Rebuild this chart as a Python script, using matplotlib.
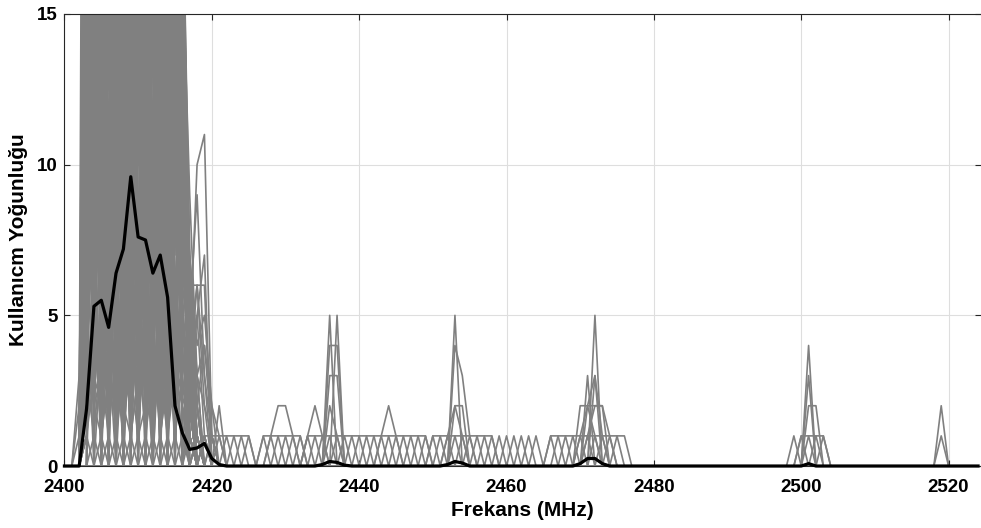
import numpy as np
import matplotlib
matplotlib.use("Agg")
from matplotlib import pyplot as plt

plt.rcParams['font.family'] = ['Liberation Sans', 'DejaVu Sans']
plt.rcParams['font.weight'] = 'bold'

# frekans ekseni (1 MHz adim)
freqs = np.arange(2400, 2525)

# ortalama egri (siyah), 2400..2421
mean_start = 2400
mean_vals = [0, 0, 0, 1.9, 5.3, 5.5, 4.6, 6.4, 7.2, 9.6, 7.6, 7.5, 6.4, 7.0,
             5.6, 2.0, 1.1, 0.55, 0.6, 0.75, 0.25, 0.05]
# ortalamadaki kucuk tepeler
mean_bumps = {2435: 0.05, 2436: 0.15, 2437: 0.12, 2438: 0.03,
              2452: 0.05, 2453: 0.15, 2454: 0.1,
              2470: 0.08, 2471: 0.25, 2472: 0.25, 2473: 0.08,
              2501: 0.08}

# yogun bant (2401'den baslayan olcumler)
block_start = 2401
block_traces = [
    [0, 0, 40, 0, 20, 2, 60, 0, 18, 5, 30, 1, 25, 0, 45, 3, 0, 0, 0, 0, 0],
    [0, 3, 18, 1, 35, 0, 22, 8, 50, 0, 16, 3, 40, 12, 20, 0, 2, 0, 0, 0, 0],
    [0, 0, 25, 10, 60, 1, 30, 0, 20, 13, 35, 0, 18, 6, 30, 8, 4, 1, 0, 0, 0],
    [0, 1, 60, 3, 17, 0, 45, 11, 25, 2, 20, 9, 55, 0, 16, 1, 0, 0, 1, 0, 0],
    [0, 2, 30, 6, 22, 14, 40, 2, 35, 0, 60, 4, 22, 10, 40, 0, 6, 3, 0, 0, 0],
    [0, 0, 20, 0, 50, 5, 16, 0, 30, 7, 18, 0, 35, 2, 25, 4, 1, 0, 0, 0, 0],
    [0, 0, 35, 12, 25, 0, 20, 9, 60, 1, 25, 13, 30, 0, 18, 2, 0, 1, 0, 0, 0],
    [0, 0, 16, 2, 30, 8, 35, 0, 17, 11, 45, 1, 20, 5, 60, 10, 3, 0, 0, 1, 0],
    [0, 0, 45, 0, 18, 3, 25, 13, 40, 0, 30, 7, 16, 0, 22, 0, 2, 0, 0, 0, 0],
    [0, 0, 22, 9, 40, 0, 55, 4, 20, 1, 16, 0, 45, 11, 35, 5, 0, 0, 0, 0, 0],
    [0, 0, 0, 30, 1, 20, 0, 45, 3, 18, 0, 60, 2, 25, 0, 20, 3, 0, 0, 0, 0],
    [0, 0, 2, 18, 12, 40, 0, 22, 9, 35, 1, 17, 13, 50, 4, 17, 5, 1, 0, 0, 0],
    [0, 0, 1, 50, 0, 25, 7, 16, 0, 40, 10, 30, 0, 20, 11, 18, 2, 0, 0, 0, 0],
    [0, 0, 0, 22, 5, 60, 1, 30, 12, 20, 0, 45, 6, 16, 0, 16, 6, 2, 0, 0, 0],
    [0, 0, 3, 35, 0, 18, 10, 50, 0, 25, 13, 22, 1, 40, 8, 16, 4, 0, 1, 0, 0],
    [0, 0, 0, 16, 8, 30, 0, 20, 14, 60, 2, 35, 9, 18, 1, 19, 3, 0, 0, 0, 0],
    [0, 0, 0, 40, 13, 16, 3, 35, 0, 22, 6, 18, 0, 30, 12, 22, 1, 0, 0, 0, 0],
    [0, 0, 1, 25, 0, 45, 12, 18, 5, 16, 0, 40, 11, 60, 0, 17, 7, 3, 0, 0, 0],
    [0, 0, 0, 60, 9, 22, 0, 40, 1, 30, 12, 16, 0, 25, 5, 15, 2, 0, 0, 0, 0],
    [0, 0, 4, 20, 1, 35, 5, 25, 11, 45, 0, 20, 14, 35, 2, 19, 0, 1, 0, 0, 0],
    [0, 0, 12, 20, 6, 15, 25, 9, 16, 4, 22, 14, 8, 18, 3, 12, 1, 0, 0, 0, 0],
    [0, 0, 6, 10, 17, 3, 13, 20, 7, 14, 19, 5, 12, 16, 9, 17, 2, 0, 0, 0, 0],
    [0, 0, 14, 5, 11, 19, 8, 4, 13, 16, 6, 21, 3, 9, 17, 6, 0, 0, 0, 0, 0],
    [0, 0, 9, 17, 2, 12, 15, 6, 22, 8, 11, 15, 20, 4, 14, 11, 3, 1, 0, 0, 0],
    [0, 0, 8, 16, 24, 16, 8, 0, 8, 16, 24, 16, 8, 0, 8, 16, 6, 0, 0, 0, 0],
    [0, 0, 16, 24, 16, 8, 0, 8, 16, 24, 16, 8, 0, 8, 16, 8, 2, 0, 0, 0, 0],
    [0, 0, 24, 16, 8, 0, 8, 16, 24, 16, 8, 0, 8, 16, 24, 16, 4, 0, 0, 0, 0],
    [0, 0, 0, 8, 16, 24, 16, 8, 0, 8, 16, 24, 16, 8, 0, 8, 3, 0, 0, 0, 0],
    [0, 0, 6, 13, 20, 13, 6, 0, 6, 13, 20, 13, 6, 13, 20, 13, 5, 0, 0, 0, 0],
    [0, 0, 20, 13, 6, 13, 20, 27, 20, 13, 6, 0, 6, 13, 20, 15, 3, 0, 0, 0, 0],
    [0, 0, 13, 20, 27, 20, 13, 6, 13, 20, 27, 20, 13, 6, 13, 10, 1, 0, 0, 0, 0],
    [0, 0, 10, 20, 10, 0, 10, 20, 10, 0, 10, 20, 10, 0, 10, 20, 5, 0, 0, 0, 0],
    [0, 0, 20, 10, 0, 10, 20, 10, 0, 10, 20, 10, 0, 10, 20, 10, 2, 0, 0, 0, 0],
    [0, 0, 5, 15, 25, 15, 5, 15, 25, 15, 5, 15, 25, 15, 5, 12, 4, 1, 0, 0, 0],
    [0, 0, 15, 25, 15, 5, 15, 25, 15, 5, 15, 25, 15, 5, 15, 20, 6, 0, 0, 0, 0],
    [0, 0, 25, 15, 5, 15, 25, 35, 25, 15, 5, 15, 25, 15, 5, 0, 0, 0, 0, 0, 0],
    [0, 0, 11, 22, 11, 3, 11, 22, 33, 22, 11, 3, 11, 22, 11, 18, 4, 0, 0, 0, 0],
    [0, 0, 3, 11, 22, 33, 22, 11, 3, 11, 22, 11, 3, 11, 22, 16, 2, 0, 0, 0, 0],
    [0, 0, 22, 11, 3, 11, 22, 11, 3, 11, 22, 33, 22, 11, 3, 11, 1, 0, 0, 0, 0],
    [0, 0, 7, 14, 21, 28, 21, 14, 7, 14, 21, 14, 7, 14, 21, 14, 3, 0, 0, 0, 0],
    [0, 0, 14, 7, 0, 7, 14, 21, 14, 7, 0, 7, 14, 21, 14, 18, 5, 1, 0, 0, 0],
    [0, 0, 21, 14, 7, 14, 21, 14, 7, 0, 7, 14, 21, 14, 7, 17, 2, 0, 0, 0, 0],
    [0, 0, 9, 18, 27, 18, 9, 18, 27, 18, 9, 0, 9, 18, 27, 18, 6, 2, 0, 0, 0],
    [0, 0, 18, 9, 0, 9, 18, 9, 18, 27, 18, 9, 18, 9, 0, 9, 0, 0, 0, 0, 0],
    [0, 0, 27, 18, 9, 18, 9, 0, 9, 18, 27, 18, 9, 18, 9, 16, 3, 0, 0, 0, 0],
    [0, 0, 4, 12, 20, 28, 20, 12, 4, 12, 20, 28, 20, 12, 4, 12, 1, 0, 0, 0, 0],
    [0, 0, 12, 4, 12, 20, 12, 4, 12, 20, 28, 20, 12, 4, 12, 20, 7, 2, 0, 0, 0],
    [0, 0, 17, 25, 17, 9, 1, 9, 17, 25, 17, 9, 1, 9, 17, 16, 0, 0, 0, 0, 0],
    [0, 0, 4, 8, 2, 6, 10, 3, 7, 1, 5, 9, 2, 6, 3, 7, 2, 0, 0, 0, 0],
    [0, 0, 8, 2, 6, 10, 3, 7, 1, 5, 9, 2, 6, 11, 4, 8, 3, 1, 0, 0, 0],
    [0, 0, 2, 6, 10, 4, 0, 5, 10, 6, 2, 7, 12, 5, 1, 6, 4, 0, 0, 0, 0],
    [0, 0, 6, 0, 4, 9, 13, 7, 3, 8, 4, 0, 5, 9, 6, 2, 1, 0, 0, 0, 0],
    [0, 0, 10, 5, 1, 3, 8, 12, 6, 2, 9, 5, 1, 4, 9, 5, 3, 0, 0, 0, 0],
    [0, 0, 3, 9, 5, 11, 7, 2, 10, 4, 12, 8, 3, 10, 5, 9, 4, 2, 0, 0, 0],
    [0, 0, 7, 3, 12, 8, 4, 10, 5, 9, 3, 7, 10, 2, 8, 4, 6, 1, 0, 0, 0],
    [0, 0, 1, 4, 7, 3, 6, 2, 5, 8, 4, 1, 4, 7, 2, 5, 2, 0, 1, 0, 0],
    [0, 0, 5, 2, 3, 6, 1, 4, 2, 6, 3, 5, 1, 3, 6, 3, 5, 2, 0, 0, 0],
    [0, 0, 2, 5, 1, 4, 3, 6, 1, 3, 5, 2, 4, 1, 3, 2, 0, 1, 0, 0, 0],
    [0, 0, 3, 1, 4, 2, 3, 1, 4, 2, 3, 1, 4, 2, 3, 1, 2, 0, 0, 0, 0],
    [0, 0, 1, 3, 2, 4, 1, 3, 2, 4, 1, 3, 2, 4, 1, 3, 1, 0, 0, 0, 0],
    [0, 0, 2, 4, 3, 1, 4, 2, 1, 3, 4, 2, 3, 1, 4, 2, 3, 1, 0, 0, 0],
    [0, 0, 4, 2, 1, 3, 2, 4, 3, 1, 2, 4, 1, 3, 2, 4, 0, 0, 0, 0, 0],
    [0, 0, 1, 0, 1, 0, 1, 0, 1, 0, 1, 0, 1, 0, 1, 0, 1, 0, 1, 0, 0],
    [0, 0, 0, 1, 0, 1, 0, 1, 0, 1, 0, 1, 0, 1, 0, 1, 0, 1, 0, 1, 0],
]

# bandin sag kuyrugu (2415..2421)
tail_start = 2415
tail_traces = [
    [30, 20, 4, 10, 11, 1, 0],
    [25, 18, 6, 6, 6, 0, 0],
    [40, 15, 2, 5, 7, 0, 0],
    [20, 17, 9, 3, 4, 2, 0],
    [35, 16, 3, 6, 2, 0, 2],
    [22, 14, 5, 9, 3, 1, 0],
    [18, 10, 7, 4, 5, 2, 1],
    [20, 12, 5, 3, 2, 1, 0],
    [16, 8, 4, 6, 3, 0, 0],
    [25, 9, 6, 2, 4, 1, 0],
    [19, 7, 3, 5, 1, 0, 0],
]

# seyrek tepeler: (baslangic frekansi, degerler)
peak_traces = [
    (2428, [1, 2, 2, 1]),
    (2433, [1, 2, 1]),
    (2435, [0, 5, 0]),
    (2436, [0, 5, 0]),
    (2435, [0, 4, 4, 0]),
    (2435, [0, 3, 3, 0]),
    (2435, [0, 2, 1, 0]),
    (2443, [1, 2, 1]),
    (2452, [0, 5, 0]),
    (2452, [0, 4, 3, 1, 0]),
    (2452, [0, 2, 2, 0]),
    (2452, [1, 2, 1]),
    (2471, [0, 5, 0]),
    (2470, [0, 3, 0]),
    (2471, [0, 3, 0]),
    (2469, [0, 2, 2, 2, 2, 0]),
    (2470, [0, 2, 3, 1, 0]),
    (2469, [0, 1, 2, 1, 0]),
    (2471, [1, 2, 2, 1]),
    (2500, [0, 4, 0]),
    (2500, [0, 3, 0]),
    (2500, [0, 2, 2, 0]),
    (2518, [0, 2, 0]),
    (2518, [0, 1, 0]),
]

# deger 1 olan frekanslar (zikzak izler)
ones_odd = [2421, 2423, 2425, 2427, 2429, 2431, 2433, 2435, 2437, 2439, 2441,
            2443, 2445, 2447, 2449, 2451, 2453, 2455, 2457, 2459, 2461, 2463,
            2467, 2469, 2471, 2473, 2475]
ones_even = [2422, 2424, 2428, 2430, 2432, 2434, 2436, 2438, 2440, 2442, 2444,
             2446, 2448, 2450, 2452, 2454, 2456, 2458, 2460, 2462, 2464, 2466,
             2468, 2470, 2472, 2474]
ones_2500a = [2499, 2501, 2503]
ones_2500b = [2500, 2502]
# deger 1 olan ardisik araliklar (baslangic, bitis)
flat_runs = [(2419, 2425), (2427, 2432), (2433, 2449), (2450, 2458),
             (2466, 2476), (2500, 2503)]


def trace(start, vals):
    y = np.zeros(len(freqs))
    i = start - freqs[0]
    y[i:i + len(vals)] = vals
    return y


def ones_trace(fs):
    y = np.zeros(len(freqs))
    y[np.array(fs) - freqs[0]] = 1
    return y


gray_lines = []
for t in block_traces:
    gray_lines.append(trace(block_start, t))
for t in tail_traces:
    gray_lines.append(trace(tail_start, t))
for s, v in peak_traces:
    gray_lines.append(trace(s, v))
for fs in [ones_odd, ones_even, ones_2500a, ones_2500b]:
    gray_lines.append(ones_trace(fs))
for a, b in flat_runs:
    gray_lines.append(ones_trace(list(range(a, b + 1))))

mean = trace(mean_start, mean_vals)
for f, v in mean_bumps.items():
    mean[f - freqs[0]] = v

fig = plt.figure(figsize=(9.81, 5.28), dpi=100)
ax = fig.add_axes([0.0657, 0.1174, 0.9343, 0.8561])

for y in gray_lines:
    ax.plot(freqs, y, color='#808080', linewidth=1.2)
ax.plot(freqs, mean, color='k', linewidth=2.3, clip_on=False, zorder=5)

ax.set_xlim(2400, 2524.4)
ax.set_ylim(0, 15)
ax.set_xticks(np.arange(2400, 2521, 20))
ax.set_yticks([0, 5, 10, 15])
ax.grid(True, color='#dedede', linewidth=0.8)
ax.set_axisbelow(True)
ax.tick_params(direction='in', top=True, right=True, length=4,
               labelsize=13.5, colors='#262626')
ax.tick_params(axis='x', pad=9)
ax.tick_params(axis='y', pad=5)
for lab in ax.get_xticklabels() + ax.get_yticklabels():
    lab.set_fontweight('bold')
    lab.set_color('black')
for sp in ['left', 'top', 'bottom']:
    ax.spines[sp].set_color('#262626')
    ax.spines[sp].set_linewidth(0.8)
ax.spines['right'].set_visible(False)

ax.set_xlabel('Frekans (MHz)', fontsize=15, fontweight='bold', labelpad=4)
ax.set_ylabel('Kullanıcm Yoğunluğu', fontsize=15, fontweight='bold', labelpad=6)

fig.savefig('out.png', dpi=100)
